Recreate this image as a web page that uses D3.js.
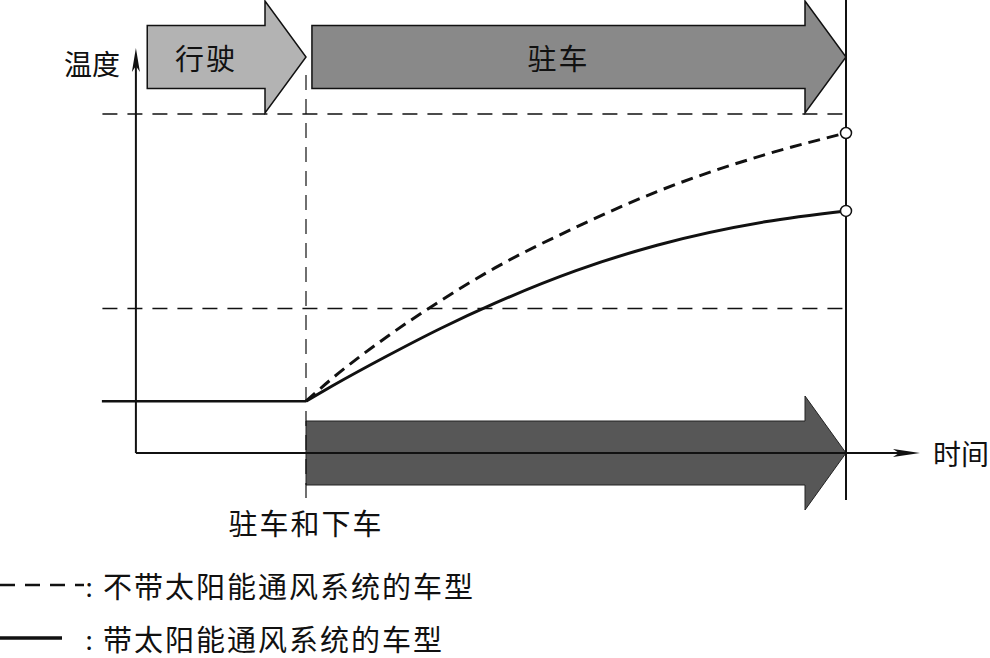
<!DOCTYPE html>
<html>
<head>
<meta charset="utf-8">
<script src="https://cdn.jsdelivr.net/npm/d3@7"></script>
<style>
  html, body { margin: 0; padding: 0; background: #fff; }
  text { font-family: "Noto Sans CJK SC", "Noto Sans", sans-serif; fill: #111; }
</style>
</head>
<body>
<div class="chartDiv"></div>
<script>
// time after parking (t = 0 is "驻车和下车"), temperature in relative units
var timeTicks     = [0, 0.5, 1.5, 2.5, 3.5, 5, 6.5, 8.5, 10];
var tempNoVent    = [15.3, 22.2, 34.3, 45, 54.6, 66.6, 77.1, 88, 94.4];   // dashed
var tempWithVent  = [15.3, 19.9, 28.6, 36.8, 44.2, 53.8, 61.3, 68.2, 71.4]; // solid
var driveTime     = [-3.78, 0];
var driveTemp     = [15.3, 15.3];
var refLevels     = [100, 42.6];           // the two dashed horizontal lines
var phaseNames    = ["行驶", "驻车"];
var phaseStart    = [-2.94, 0.11];
var phaseEnd      = [0, 10];
var phaseColors   = ["#b3b3b3", "#898989"];
var axisLabels    = ["温度", "时间"];
var eventLabel    = "驻车和下车";
var legendLabels  = ["不带太阳能通风系统的车型", "带太阳能通风系统的车型"];

(function(){
  var width = 990, height = 658;
  var svg = d3.select(".chartDiv").append("svg")
      .attr("width", width).attr("height", height);

  var x = d3.scaleLinear().domain([0, 10]).range([306, 846]);
  var y = d3.scaleLinear().domain([0, 100]).range([453, 114]);

  var originT = -3.15, leftT = -3.77;
  var headLen = 41;

  // big block arrow: rect body + triangular head
  function blockArrow(x0, x1, yMid, halfBody, halfHead){
    var hb = x1 - headLen;
    return "M" + x0 + "," + (yMid - halfBody) +
           "L" + hb + "," + (yMid - halfBody) +
           "L" + hb + "," + (yMid - halfHead) +
           "L" + x1 + "," + yMid +
           "L" + hb + "," + (yMid + halfHead) +
           "L" + hb + "," + (yMid + halfBody) +
           "L" + x0 + "," + (yMid + halfBody) + "Z";
  }

  // bottom arrow (parking duration), drawn under the axis
  svg.append("path")
      .attr("d", blockArrow(x(0), x(10), y(0), 32, 57))
      .attr("fill", "#575757").attr("stroke", "#222").attr("stroke-width", 1);

  // top phase arrows
  phaseNames.forEach(function(name, i){
    svg.append("path")
        .attr("d", blockArrow(x(phaseStart[i]), x(phaseEnd[i]), 57, 31.5, 56))
        .attr("fill", phaseColors[i]).attr("stroke", "#111").attr("stroke-width", 1.5);
    var cx = (x(phaseStart[i]) + x(phaseEnd[i]) - headLen) / 2;
    svg.append("text").attr("x", cx).attr("y", 57)
        .attr("text-anchor", "middle").attr("dominant-baseline", "central")
        .attr("font-size", 29).attr("letter-spacing", 2).text(name);
  });

  // reference dashed lines
  svg.selectAll("line.ref").data(refLevels).enter().append("line")
      .attr("class", "ref")
      .attr("x1", x(leftT)).attr("x2", x(10))
      .attr("y1", function(d){ return y(d); }).attr("y2", function(d){ return y(d); })
      .attr("stroke", "#111").attr("stroke-width", 1.5).attr("stroke-dasharray", "15,10");

  // vertical dashed line at parking moment
  svg.append("line")
      .attr("x1", x(0)).attr("x2", x(0)).attr("y1", 75).attr("y2", 504)
      .attr("stroke", "#111").attr("stroke-width", 1.2).attr("stroke-dasharray", "15,9");

  // vertical end line
  svg.append("line")
      .attr("x1", x(10)).attr("x2", x(10)).attr("y1", 0).attr("y2", 500)
      .attr("stroke", "#111").attr("stroke-width", 2);

  // axes
  svg.append("line")
      .attr("x1", x(originT)).attr("x2", x(originT)).attr("y1", 453).attr("y2", 60)
      .attr("stroke", "#111").attr("stroke-width", 2);
  svg.append("path")
      .attr("d", "M" + x(originT) + ",48 L" + (x(originT) - 4) + ",72 L" + x(originT) + ",66 L" + (x(originT) + 4) + ",72 Z")
      .attr("fill", "#111");
  svg.append("line")
      .attr("x1", x(originT)).attr("x2", 905).attr("y1", y(0)).attr("y2", y(0))
      .attr("stroke", "#111").attr("stroke-width", 2);
  svg.append("path")
      .attr("d", "M920," + y(0) + " L893," + (y(0) - 4) + " L899," + y(0) + " L893," + (y(0) + 4) + " Z")
      .attr("fill", "#111");

  svg.append("text").attr("x", 92).attr("y", 63)
      .attr("text-anchor", "middle").attr("dominant-baseline", "central")
      .attr("font-size", 28).text(axisLabels[0]);
  svg.append("text").attr("x", 961).attr("y", y(0))
      .attr("text-anchor", "middle").attr("dominant-baseline", "central")
      .attr("font-size", 28).text(axisLabels[1]);
  svg.append("text").attr("x", x(0)).attr("y", 522)
      .attr("text-anchor", "middle").attr("dominant-baseline", "central")
      .attr("font-size", 29).attr("letter-spacing", 2).text(eventLabel);

  // temperature curves
  var line = d3.line()
      .x(function(d){ return x(d[0]); })
      .y(function(d){ return y(d[1]); })
      .curve(d3.curveMonotoneX);

  svg.append("path")
      .attr("d", line(d3.zip(driveTime, driveTemp)))
      .attr("fill", "none").attr("stroke", "#111").attr("stroke-width", 2.5);
  svg.append("path")
      .attr("d", line(d3.zip(timeTicks, tempNoVent)))
      .attr("fill", "none").attr("stroke", "#111").attr("stroke-width", 3)
      .attr("stroke-dasharray", "12,7");
  svg.append("path")
      .attr("d", line(d3.zip(timeTicks, tempWithVent)))
      .attr("fill", "none").attr("stroke", "#111").attr("stroke-width", 3);

  var ends = [tempNoVent[tempNoVent.length - 1], tempWithVent[tempWithVent.length - 1]];
  svg.selectAll("circle").data(ends).enter().append("circle")
      .attr("cx", x(10)).attr("cy", function(d){ return y(d); })
      .attr("r", 5.5).attr("fill", "#fff").attr("stroke", "#111").attr("stroke-width", 1.5);

  // legend
  var legY = [585, 638];
  svg.append("line").attr("x1", 0).attr("x2", 84).attr("y1", legY[0]).attr("y2", legY[0])
      .attr("stroke", "#111").attr("stroke-width", 2.5).attr("stroke-dasharray", "15,10");
  svg.append("line").attr("x1", 0).attr("x2", 62).attr("y1", legY[1]).attr("y2", legY[1])
      .attr("stroke", "#111").attr("stroke-width", 3.5);
  legendLabels.forEach(function(lab, i){
    svg.append("text").attr("x", 89).attr("y", legY[i])
        .attr("text-anchor", "middle").attr("dominant-baseline", "central")
        .attr("font-size", 26).text(":");
    svg.append("text").attr("x", 103).attr("y", legY[i])
        .attr("dominant-baseline", "central").attr("font-size", 29)
        .attr("letter-spacing", 2).text(lab);
  });
})()
</script>
</body>
</html>
